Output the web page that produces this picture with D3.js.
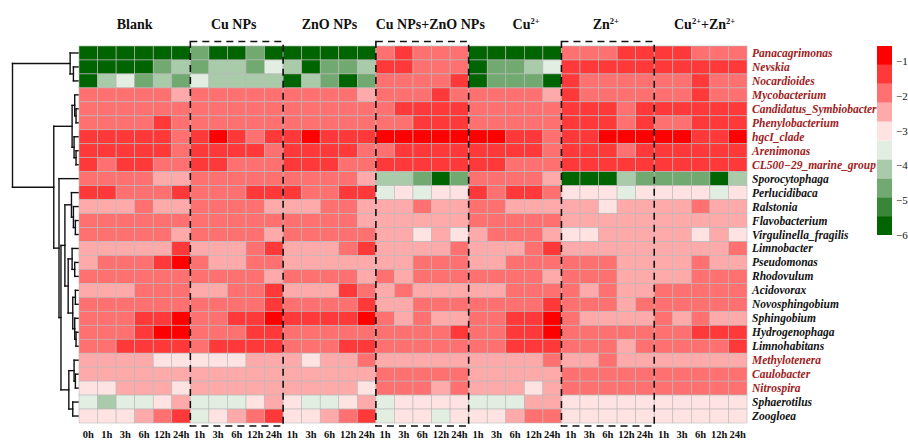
<!DOCTYPE html>
<html>
<head>
<meta charset="utf-8">
<script src="https://cdn.jsdelivr.net/npm/d3@7"></script>
<style>
  body { margin: 0; background: #fff; }
  svg { display: block; }
</style>
</head>
<body>
<svg id="chart" width="908" height="443"></svg>
<script>
// Treatment groups (column blocks) and sampling times
const groups = ["Blank", "Cu NPs", "ZnO NPs", "Cu NPs+ZnO NPs", "Cu|2+", "Zn|2+", "Cu|2+|+Zn|2+"];
const groupTimes = [
  ["0h", "1h", "3h", "6h", "12h", "24h"],
  ["1h", "3h", "6h", "12h", "24h"],
  ["1h", "3h", "6h", "12h", "24h"],
  ["1h", "3h", "6h", "12h", "24h"],
  ["1h", "3h", "6h", "12h", "24h"],
  ["1h", "3h", "6h", "12h", "24h"],
  ["1h", "3h", "6h", "12h", "24h"]
];
const boxedGroups = [1, 3, 5];

// Genera (rows, in dendrogram order)
const genera = [
  "Panacagrimonas", "Nevskia", "Nocardioides", "Mycobacterium", "Candidatus_Symbiobacter",
  "Phenylobacterium", "hgcI_clade", "Arenimonas", "CL500\u221229_marine_group", "Sporocytophaga",
  "Perlucidibaca", "Ralstonia", "Flavobacterium", "Virgulinella_fragilis", "Limnobacter",
  "Pseudomonas", "Rhodovulum", "Acidovorax", "Novosphingobium", "Sphingobium",
  "Hydrogenophaga", "Limnohabitans", "Methylotenera", "Caulobacter", "Nitrospira",
  "Sphaerotilus", "Zoogloea"
];
const highlightedGenera = [
  "Panacagrimonas", "Nevskia", "Nocardioides", "Mycobacterium", "Candidatus_Symbiobacter",
  "Phenylobacterium", "hgcI_clade", "Arenimonas", "CL500\u221229_marine_group",
  "Methylotenera", "Caulobacter", "Nitrospira"
];

// log10 relative abundance, one row per genus, 36 samples per row
const logAbundance = [
  [-5.7,-5.7,-5.7,-5.7,-5.7,-5.7, -4.6,-5.7,-5.7,-4.6,-5.7, -5.7,-5.7,-5.7,-5.7,-5.7, -1.9,-1.4,-1.9,-1.9,-1.9, -5.7,-5.7,-5.7,-5.7,-5.7, -1.9,-1.9,-1.9,-1.4,-1.4, -1.4,-1.4,-1.9,-1.9,-1.9],
  [-5.7,-5.7,-5.7,-5.7,-4.6,-4.1, -4.6,-4.1,-4.1,-4.6,-3.5, -4.1,-5.7,-4.6,-4.6,-4.1, -1.4,-1.4,-1.9,-1.9,-1.9, -5.7,-4.6,-4.6,-4.1,-3.5, -1.4,-1.4,-1.4,-1.4,-1.4, -1.4,-1.4,-1.4,-1.4,-1.4],
  [-5.7,-4.1,-3.5,-4.6,-4.1,-4.6, -3.5,-4.1,-4.1,-4.1,-4.1, -5.7,-4.1,-4.6,-5.7,-4.6, -1.9,-1.9,-1.9,-1.9,-1.4, -5.7,-4.6,-4.6,-4.6,-5.7, -1.4,-1.9,-1.9,-1.9,-1.9, -1.9,-1.9,-1.4,-1.9,-1.9],
  [-1.9,-1.9,-1.9,-1.9,-1.9,-2.5, -1.9,-1.9,-1.9,-1.9,-1.9, -1.9,-1.9,-1.9,-1.9,-2.5, -1.9,-1.9,-1.9,-1.4,-1.9, -1.9,-1.9,-1.9,-1.9,-2.5, -1.4,-1.9,-1.9,-1.9,-1.9, -1.9,-1.9,-1.4,-1.9,-1.9],
  [-1.9,-1.9,-1.9,-1.9,-1.9,-1.9, -1.9,-1.9,-1.9,-1.9,-1.9, -1.9,-1.9,-1.9,-1.9,-1.9, -1.9,-1.4,-1.4,-1.4,-1.4, -1.9,-1.9,-1.9,-1.9,-1.9, -1.4,-1.4,-1.4,-1.9,-1.4, -1.4,-1.4,-1.4,-1.4,-1.4],
  [-1.9,-1.9,-1.9,-1.9,-1.4,-1.9, -1.9,-1.9,-1.9,-1.9,-1.9, -1.9,-1.9,-1.9,-1.9,-1.9, -1.9,-1.9,-1.4,-1.4,-1.4, -1.9,-1.9,-1.9,-1.9,-1.9, -1.4,-1.4,-1.4,-1.9,-1.4, -1.9,-1.9,-1.4,-1.4,-1.4],
  [-1.4,-1.4,-1.4,-1.4,-1.4,-1.9, -1.4,-0.9,-1.4,-1.9,-1.4, -1.4,-0.9,-1.4,-1.4,-1.4, -0.9,-0.9,-0.9,-0.9,-0.9, -0.9,-0.9,-1.4,-1.4,-1.9, -1.4,-1.4,-0.9,-0.9,-0.9, -0.9,-0.9,-1.4,-1.4,-0.9],
  [-1.4,-1.4,-1.4,-1.4,-1.4,-1.9, -1.4,-1.4,-1.4,-1.4,-1.9, -1.4,-1.4,-1.4,-1.4,-1.9, -1.9,-1.4,-1.4,-1.4,-1.4, -1.4,-1.4,-1.4,-1.4,-1.9, -1.4,-1.4,-1.4,-1.9,-1.4, -1.4,-1.4,-1.4,-1.4,-1.4],
  [-1.4,-1.9,-1.4,-1.4,-1.9,-1.9, -1.4,-1.4,-1.9,-1.9,-1.9, -1.4,-1.4,-1.4,-1.9,-1.9, -1.4,-1.4,-1.4,-1.4,-1.4, -1.4,-1.4,-1.9,-1.9,-1.9, -1.4,-1.4,-1.4,-1.4,-1.4, -1.4,-1.4,-1.4,-1.4,-1.4],
  [-1.9,-1.9,-1.9,-1.9,-2.5,-2.5, -1.9,-1.9,-1.9,-1.9,-1.9, -1.9,-1.9,-1.9,-1.9,-2.5, -4.1,-4.1,-4.6,-5.7,-4.6, -1.9,-1.9,-1.9,-1.9,-2.5, -5.7,-5.7,-5.7,-4.1,-4.6, -4.6,-4.6,-4.6,-5.7,-4.1],
  [-1.4,-1.4,-1.9,-1.9,-1.9,-1.4, -1.9,-1.9,-1.9,-1.4,-1.4, -1.4,-1.9,-1.9,-1.4,-1.4, -3.5,-3.0,-3.5,-3.0,-3.0, -1.4,-1.9,-1.4,-1.4,-1.9, -3.0,-3.0,-3.0,-3.5,-3.0, -3.0,-3.0,-3.0,-3.5,-3.0],
  [-2.5,-2.5,-2.5,-1.9,-2.5,-2.5, -1.9,-1.9,-1.9,-1.9,-2.5, -2.5,-2.5,-1.9,-1.9,-2.5, -2.5,-2.5,-1.9,-2.5,-2.5, -1.9,-1.9,-2.5,-2.5,-2.5, -2.5,-2.5,-3.0,-2.5,-2.5, -2.5,-2.5,-1.9,-2.5,-2.5],
  [-1.9,-1.9,-1.9,-1.9,-1.9,-1.9, -1.9,-1.9,-1.9,-1.9,-1.9, -1.9,-1.9,-1.9,-1.9,-2.5, -2.5,-2.5,-2.5,-2.5,-2.5, -1.9,-1.9,-1.9,-1.9,-1.9, -2.5,-2.5,-2.5,-2.5,-2.5, -2.5,-2.5,-2.5,-2.5,-2.5],
  [-1.9,-1.9,-1.9,-1.9,-1.9,-2.5, -1.9,-1.9,-1.9,-1.9,-2.5, -1.9,-1.9,-1.9,-1.9,-1.9, -2.5,-2.5,-3.0,-2.5,-3.0, -2.5,-1.9,-1.9,-1.9,-2.5, -3.0,-3.0,-2.5,-2.5,-2.5, -2.5,-2.5,-3.0,-2.5,-3.0],
  [-2.5,-2.5,-2.5,-2.5,-2.5,-1.4, -2.5,-2.5,-2.5,-1.9,-1.4, -2.5,-2.5,-2.5,-1.9,-1.4, -2.5,-2.5,-2.5,-2.5,-1.9, -2.5,-2.5,-2.5,-1.9,-1.4, -2.5,-2.5,-2.5,-2.5,-2.5, -2.5,-2.5,-2.5,-2.5,-1.9],
  [-2.5,-1.9,-1.9,-1.9,-1.4,-0.9, -1.9,-2.5,-2.5,-1.9,-1.9, -2.5,-2.5,-2.5,-2.5,-2.5, -2.5,-2.5,-1.9,-1.9,-1.9, -2.5,-2.5,-1.9,-1.9,-1.9, -1.9,-1.9,-1.9,-2.5,-2.5, -2.5,-2.5,-1.9,-2.5,-2.5],
  [-1.9,-1.9,-1.9,-1.9,-1.9,-1.9, -1.9,-1.9,-1.9,-1.9,-2.5, -1.9,-1.9,-1.9,-1.9,-2.5, -1.9,-2.5,-1.9,-1.9,-1.9, -1.9,-1.9,-1.9,-1.9,-2.5, -1.9,-1.9,-1.9,-2.5,-2.5, -2.5,-2.5,-1.9,-1.9,-1.9],
  [-2.5,-2.5,-2.5,-1.9,-1.9,-1.9, -2.5,-2.5,-1.9,-1.9,-1.4, -2.5,-2.5,-2.5,-1.4,-1.9, -2.5,-1.9,-2.5,-2.5,-2.5, -2.5,-2.5,-1.9,-1.9,-1.9, -1.9,-2.5,-1.9,-2.5,-2.5, -1.9,-1.9,-1.9,-1.9,-1.9],
  [-1.9,-1.9,-1.9,-1.9,-1.9,-1.9, -1.9,-1.9,-1.9,-1.9,-1.4, -1.9,-1.9,-1.9,-1.9,-1.4, -2.5,-2.5,-1.9,-1.9,-1.9, -1.9,-1.9,-1.9,-1.9,-1.4, -1.9,-1.9,-1.9,-2.5,-1.9, -1.9,-1.9,-1.9,-1.9,-1.9],
  [-1.9,-1.9,-1.9,-1.4,-1.4,-0.9, -1.9,-1.9,-1.4,-1.4,-0.9, -1.4,-1.4,-1.4,-1.4,-0.9, -1.9,-2.5,-1.9,-2.5,-2.5, -1.9,-1.9,-1.4,-1.4,-0.9, -1.9,-2.5,-2.5,-2.5,-2.5, -1.9,-2.5,-1.9,-2.5,-2.5],
  [-1.9,-1.9,-1.9,-1.4,-0.9,-0.9, -1.9,-1.9,-1.9,-1.4,-1.4, -1.9,-1.9,-1.9,-1.9,-1.9, -1.9,-1.9,-1.9,-1.9,-1.4, -1.9,-1.9,-1.4,-1.4,-0.9, -1.9,-1.9,-1.9,-1.9,-1.9, -1.9,-1.9,-1.4,-1.4,-1.4],
  [-1.9,-1.9,-1.4,-1.4,-1.4,-1.4, -1.9,-1.4,-1.4,-1.4,-1.4, -1.9,-1.9,-1.9,-1.4,-1.4, -1.9,-1.9,-1.9,-1.9,-1.9, -1.9,-1.9,-1.4,-1.4,-1.4, -1.9,-1.9,-1.9,-2.5,-1.9, -1.9,-1.9,-1.9,-1.9,-1.4],
  [-2.5,-2.5,-2.5,-2.5,-3.0,-3.0, -3.0,-3.0,-3.0,-2.5,-2.5, -2.5,-3.0,-2.5,-2.5,-1.9, -2.5,-2.5,-2.5,-2.5,-2.5, -2.5,-2.5,-2.5,-2.5,-1.9, -2.5,-2.5,-1.9,-2.5,-2.5, -2.5,-2.5,-2.5,-2.5,-2.5],
  [-2.5,-2.5,-2.5,-2.5,-2.5,-2.5, -2.5,-2.5,-2.5,-2.5,-2.5, -2.5,-2.5,-2.5,-2.5,-2.5, -1.9,-1.9,-1.9,-1.9,-1.9, -2.5,-2.5,-2.5,-2.5,-2.5, -1.9,-1.9,-1.9,-1.9,-1.9, -1.9,-1.9,-1.9,-1.9,-1.9],
  [-3.0,-3.0,-2.5,-2.5,-2.5,-3.0, -2.5,-2.5,-2.5,-2.5,-2.5, -2.5,-2.5,-2.5,-2.5,-3.0, -1.9,-1.9,-1.9,-2.5,-1.9, -2.5,-2.5,-2.5,-3.0,-2.5, -1.9,-1.9,-1.9,-1.9,-1.9, -1.9,-1.9,-1.9,-1.9,-1.9],
  [-3.5,-4.1,-3.5,-3.5,-3.0,-2.5, -3.5,-3.5,-3.5,-3.0,-2.5, -3.0,-3.5,-3.5,-3.0,-2.5, -3.5,-3.0,-3.0,-3.0,-3.0, -3.5,-3.5,-3.5,-2.5,-2.5, -3.0,-3.0,-3.0,-3.0,-3.0, -3.0,-3.0,-3.0,-3.0,-3.0],
  [-3.0,-3.0,-3.0,-2.5,-1.9,-1.4, -3.5,-3.0,-2.5,-1.9,-1.4, -3.0,-3.0,-2.5,-1.9,-1.4, -3.5,-3.0,-3.0,-3.5,-3.0, -3.0,-3.0,-2.5,-1.9,-1.9, -3.0,-3.0,-3.0,-3.0,-3.0, -3.0,-3.0,-3.0,-3.0,-3.0]
];

// Row clustering: leaves are row indices, h = merge height
const rowTree = { h: 1.0, c: [
  { h: 0.12, c: [0, { h: 0.07, c: [1, 2] }] },
  { h: 0.37, c: [
    { h: 0.09, c: [
      { h: 0.05, c: [3, { h: 0.03, c: [4, 5] }] },
      { h: 0.06, c: [6, { h: 0.03, c: [7, 8] }] }
    ] },
    { h: 0.29, c: [
      9,
      { h: 0.26, c: [
        { h: 0.2, c: [
          { h: 0.1, c: [10, { h: 0.07, c: [11, { h: 0.04, c: [12, 13] }] }] },
          { h: 0.15, c: [
            { h: 0.09, c: [14, { h: 0.05, c: [15, 16] }] },
            { h: 0.08, c: [{ h: 0.04, c: [17, 18] }, { h: 0.05, c: [19, { h: 0.03, c: [20, 21] }] }] }
          ] }
        ] },
        { h: 0.14, c: [
          { h: 0.06, c: [22, { h: 0.04, c: [23, 24] }] },
          { h: 0.08, c: [25, 26] }
        ] }
      ] }
    ] }
  ] }
] };

const legendTicks = [-1, -2, -3, -4, -5, -6];
const colorDomain = [-6, -0.57];

// ---------------------------------------------------------------
const svg = d3.select("#chart");
const serif = "'Liberation Serif', 'Times New Roman', serif";

const columns = [];
groupTimes.forEach((times, g) => times.forEach(t => columns.push({ g, t })));
const nCols = columns.length, nRows = genera.length;

const x = d3.scaleBand().domain(d3.range(nCols)).range([79, 747]).paddingInner(0);
const y = d3.scaleBand().domain(d3.range(nRows)).range([46, 423]).paddingInner(0);

const palette = d3.quantize(
  d3.piecewise(d3.interpolateRgb, ["#006400", "#ffffff", "#ff0000"]), 10);
const color = d3.scaleQuantize().domain(colorDomain).range(palette);

// Heatmap cells
const cells = [];
logAbundance.forEach((row, r) => row.forEach((v, c) => cells.push({ r, c, v })));
svg.append("g").selectAll("rect").data(cells).join("rect")
  .attr("x", d => x(d.c))
  .attr("y", d => y(d.r))
  .attr("width", x.bandwidth())
  .attr("height", y.bandwidth())
  .attr("fill", d => color(d.v))
  .attr("stroke", "#b8b8b8")
  .attr("stroke-width", 0.6);

// Group titles
function groupStart(g) { return columns.findIndex(c => c.g === g); }
function groupEnd(g) { let i = -1; columns.forEach((c, k) => { if (c.g === g) i = k; }); return i; }

function superLabel(sel, label) {
  const parts = label.split("|");
  parts.forEach((p, i) => {
    const isSup = (label.startsWith("Cu|") || label.startsWith("Zn|")) && (i % 2 === 1);
    sel.append("tspan")
      .attr("font-size", isSup ? 8.5 : 14)
      .attr("dy", isSup ? -5 : (i > 0 ? 5 : 0))
      .text(p);
  });
}
const titleOffsets = [0, -3, 0, 8, 11, -2, 4];
groups.forEach((g, i) => {
  const cx = (x(groupStart(i)) + x(groupEnd(i)) + x.bandwidth()) / 2 + titleOffsets[i];
  const t = svg.append("text")
    .attr("x", cx).attr("y", 29)
    .attr("text-anchor", "middle")
    .attr("font-family", serif)
    .attr("font-weight", "bold")
    .attr("font-size", 14)
    .attr("fill", "#111");
  if (g.includes("|")) superLabel(t, g); else t.text(g);
});

// Column (time) labels
svg.append("g").selectAll("text").data(columns).join("text")
  .attr("x", (d, i) => x(i) + x.bandwidth() / 2)
  .attr("y", 438)
  .attr("text-anchor", "middle")
  .attr("font-family", serif)
  .attr("font-weight", "bold")
  .attr("font-size", 10.5)
  .attr("fill", "#111")
  .text(d => d.t);

// Row labels
svg.append("g").selectAll("text").data(genera).join("text")
  .attr("x", 752)
  .attr("y", (d, i) => y(i) + y.bandwidth() / 2 + 4)
  .attr("font-family", serif)
  .attr("font-weight", "bold")
  .attr("font-style", "italic")
  .attr("font-size", 11.5)
  .attr("fill", d => highlightedGenera.includes(d) ? "#a01c1c" : "#111")
  .text(d => d);

// Dashed boxes around alternating treatment groups
boxedGroups.forEach(g => {
  const x0 = x(groupStart(g)), x1 = x(groupEnd(g)) + x.bandwidth();
  svg.append("rect")
    .attr("x", x0).attr("y", 41.5)
    .attr("width", x1 - x0).attr("height", 426 - 41.5)
    .attr("fill", "none")
    .attr("stroke", "#111")
    .attr("stroke-width", 1.6)
    .attr("stroke-dasharray", "7,5");
});

// Row dendrogram
const xd = d3.scaleLinear().domain([0, 1]).range([78, 12.5]);
function layout(node) {
  if (typeof node === "number") return { x: xd(0), y: y(node) + y.bandwidth() / 2 };
  const kids = node.c.map(layout);
  const pos = { x: xd(node.h), y: d3.mean(kids, k => k.y) };
  const yMin = d3.min(kids, k => k.y), yMax = d3.max(kids, k => k.y);
  segs.push([[pos.x, yMin], [pos.x, yMax]]);
  kids.forEach(k => segs.push([[pos.x, k.y], [k.x, k.y]]));
  return pos;
}
const segs = [];
layout(rowTree);
svg.append("g").selectAll("path").data(segs).join("path")
  .attr("d", d3.line())
  .attr("fill", "none")
  .attr("stroke", "#111")
  .attr("stroke-width", 1.4)
  .attr("stroke-linecap", "square");

// Colour legend
const ly = d3.scaleLinear().domain([colorDomain[1], colorDomain[0]]).range([46, 235]);
const step = (colorDomain[1] - colorDomain[0]) / palette.length;
const bands = palette.map((c, i) => ({ c, lo: colorDomain[0] + i * step, hi: colorDomain[0] + (i + 1) * step }));
svg.append("g").selectAll("rect").data(bands).join("rect")
  .attr("x", 877).attr("width", 15)
  .attr("y", d => ly(d.hi))
  .attr("height", d => ly(d.lo) - ly(d.hi))
  .attr("fill", d => d.c);
const axis = d3.axisRight(ly).tickValues(legendTicks).tickSize(0).tickPadding(4)
  .tickFormat(d => "\u2212" + Math.abs(d));
const ag = svg.append("g").attr("transform", "translate(892,0)").call(axis);
ag.select(".domain").remove();
ag.selectAll("text").attr("font-family", serif).attr("font-size", 11).attr("fill", "#111");
</script>
</body>
</html>
